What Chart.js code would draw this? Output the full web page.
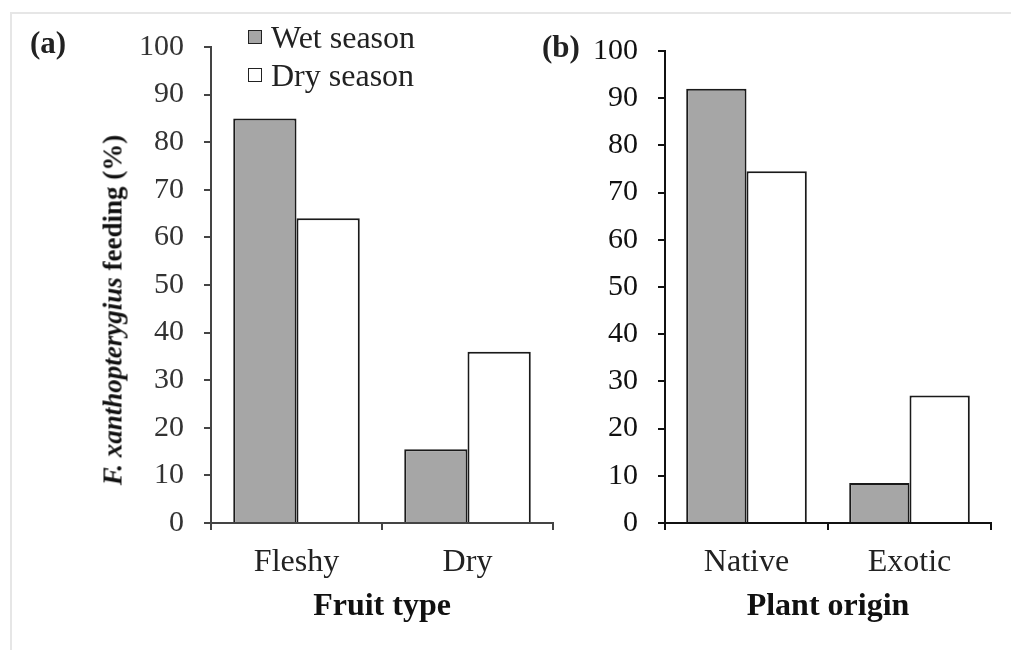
<!DOCTYPE html>
<html>
<head>
<meta charset="utf-8">
<script src="https://cdn.jsdelivr.net/npm/chart.js@4/dist/chart.umd.min.js"></script>
<style>
  body { margin: 0; background: #fff; }
  #page { position: relative; width: 1011px; height: 650px; overflow: hidden; font-family: "Liberation Serif", "Times New Roman", serif; }
  #frame { position: absolute; left: 10px; top: 12px; width: 1010px; height: 650px; border-top: 2px solid #e6e6e6; border-left: 2px solid #e6e6e6; }
  .box { position: absolute; }
  .lbl { position: absolute; white-space: nowrap; line-height: 30px; font-size: 30px; color: #222; }
  .key { position: absolute; width: 12px; height: 12px; border: 1.5px solid #222; }
  #ytitle { position: absolute; left: 113px; top: 310px; transform: translate(-50%, -50%) rotate(-90deg);
            white-space: nowrap; font-size: 27px; font-weight: bold; color: #111; }
</style>
</head>
<body>
<div id="page">
  <div id="frame"></div>
  <div class="box" style="left:0;top:0;width:570px;height:650px"><canvas id="chartA" width="570" height="650"></canvas></div>
  <div class="box" style="left:520px;top:0;width:491px;height:650px"><canvas id="chartB" width="491" height="650"></canvas></div>
  <div class="lbl" style="left:30px;top:28px;font-weight:bold;font-size:31px">(a)</div>
  <div class="lbl" style="left:542px;top:32px;font-weight:bold;font-size:31px">(b)</div>
  <div id="ytitle"><i>F. xanthopterygius</i> feeding (%)</div>
  <div id="legend"></div>
</div>
<script>
// categories and values
const fruitTypes = ['Fleshy', 'Dry'];
const plantOrigins = ['Native', 'Exotic'];
const seasons = ['Wet season', 'Dry season'];

const fruitWet = [85, 15.5];
const fruitDry = [64, 36];
const originWet = [92, 8.5];
const originDry = [74.5, 27];

const yMin = 0, yMax = 100, yStep = 10;

const wetColor = '#a6a6a6';
const dryColor = '#ffffff';

// legend, built from the season names
var legend = document.getElementById('legend');
var keyColors = [wetColor, dryColor];
var keyTops = [22, 60];
seasons.forEach(function(s, i){
  var k = document.createElement('div');
  k.className = 'key';
  k.style.left = '248px';
  k.style.top = (keyTops[i] + 8) + 'px';
  k.style.background = keyColors[i];
  legend.appendChild(k);
  var t = document.createElement('div');
  t.className = 'lbl';
  t.style.left = '271px';
  t.style.top = keyTops[i] + 'px';
  t.style.fontSize = '32px';
  t.textContent = s;
  legend.appendChild(t);
});

function makeChart(id, labels, wet, dry, title, opts){
  var ctx = document.getElementById(id);
  return new Chart(ctx, {
    type: 'bar',
    data: {
      labels: labels,
      datasets: [{
        label: seasons[0],
        data: wet,
        backgroundColor: wetColor,
        borderColor: '#1a1a1a',
        borderWidth: 2,
        categoryPercentage: 0.74,
        barPercentage: 1
      }, {
        label: seasons[1],
        data: dry,
        backgroundColor: dryColor,
        borderColor: '#1a1a1a',
        borderWidth: 2,
        categoryPercentage: 0.74,
        barPercentage: 1
      }]
    },
    options: {
      responsive: false,
      animation: false,
      layout: { padding: { left: 0, top: opts.top, right: opts.right, bottom: 0 } },
      plugins: { legend: { display: false }, tooltip: { enabled: false } },
      scales: {
        x: {
          grid: { display: true, drawOnChartArea: false, drawTicks: true, tickLength: 7, color: opts.axis, lineWidth: 2 },
          border: { display: true, color: opts.axis, width: 2 },
          ticks: { color: '#222', padding: 13, font: { family: 'Liberation Serif', size: 32 } },
          title: { display: true, text: title, color: '#111', padding: { top: 0, bottom: 24 },
                   font: { family: 'Liberation Serif', size: 32, weight: 'bold' } },
          afterFit: function(scale){ scale.height = 650 - 523; }
        },
        y: {
          min: yMin, max: yMax,
          grid: { display: true, drawOnChartArea: false, drawTicks: true, tickLength: 7, color: opts.axis, lineWidth: 2 },
          border: { display: true, color: opts.axis, width: 2 },
          ticks: { stepSize: yStep, color: opts.tickColor, padding: 20, font: { family: 'Liberation Serif', size: 30 } },
          afterFit: function(scale){ scale.width = opts.yWidth; }
        }
      }
    }
  });
}

makeChart('chartA', fruitTypes, fruitWet, fruitDry, 'Fruit type',
  { top: 47, right: 17, yWidth: 211, axis: '#444', tickColor: '#333' });
makeChart('chartB', plantOrigins, originWet, originDry, 'Plant origin',
  { top: 51, right: 20, yWidth: 145, axis: '#111', tickColor: '#111' });
</script>
</body>
</html>
